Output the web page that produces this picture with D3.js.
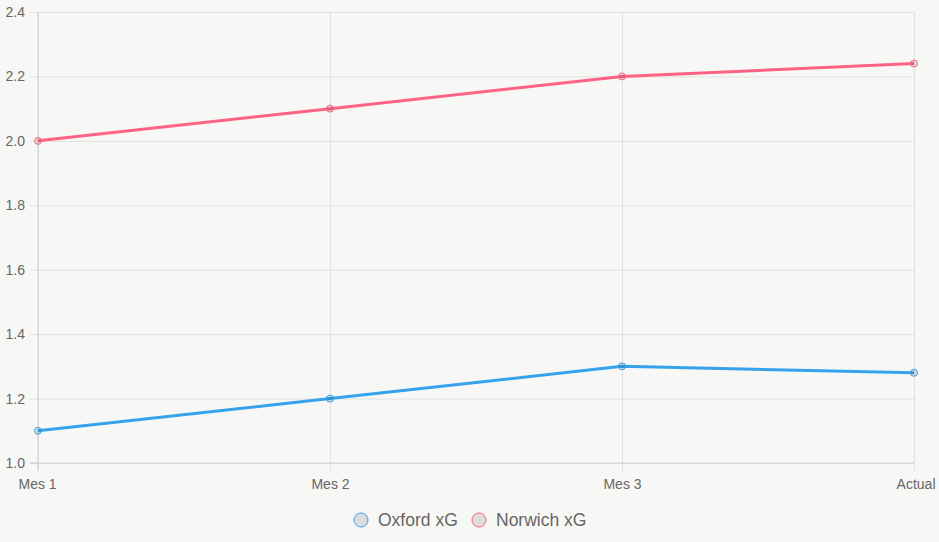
<!DOCTYPE html>
<html>
<head>
<meta charset="utf-8">
<script src="https://cdn.jsdelivr.net/npm/d3@7"></script>
<style>
  html, body { margin: 0; padding: 0; background: #f7f7f5; }
  svg { display: block; font-family: "Liberation Sans", Arial, sans-serif; }
</style>
</head>
<body>
<div id="chart"></div>
<script>
// chart values
const months = ["Mes 1", "Mes 2", "Mes 3", "Actual"];
const oxford = [1.1, 1.2, 1.3, 1.28];
const norwich = [2.0, 2.1, 2.2, 2.24];
const yTicks = [1.0, 1.2, 1.4, 1.6, 1.8, 2.0, 2.2, 2.4];
const seriesNames = ["Oxford xG", "Norwich xG"];
const seriesColors = ["#36a2eb", "#ff6384"];

const width = 939, height = 542;
const plotLeft = 38, plotRight = 914, plotTop = 12, plotBottom = 463;

const svg = d3.select("#chart").append("svg")
  .attr("width", width)
  .attr("height", height);

const x = d3.scalePoint().domain(months).range([plotLeft, plotRight]);
const y = d3.scaleLinear().domain([1.0, 2.4]).range([plotBottom, plotTop]);

// y grid + labels
const gy = svg.append("g")
  .attr("transform", `translate(${plotRight},0)`)
  .call(d3.axisLeft(y).tickValues(yTicks).tickSize(plotRight - plotLeft + 8).tickPadding(5).tickFormat(d3.format(".1f")));
gy.select(".domain").remove();
gy.selectAll(".tick line").attr("stroke", "#e0e0e0");
gy.selectAll(".tick text")
  .attr("fill", "#666")
  .attr("font-size", 14);

// x grid + labels
const gx = svg.append("g")
  .attr("transform", `translate(0,${plotTop})`)
  .call(d3.axisBottom(x).tickSize(plotBottom - plotTop + 8).tickPadding(8));
gx.select(".domain").remove();
gx.selectAll(".tick line").attr("stroke", "#e0e0e0");
gx.selectAll(".tick text")
  .attr("fill", "#666")
  .attr("font-size", 14);
gx.selectAll(".tick text")
  .filter((d, i) => i === 0).attr("text-anchor", "start").attr("dx", -20);
gx.selectAll(".tick text")
  .filter((d, i) => i === months.length - 1).attr("text-anchor", "end").attr("dx", 21);

// axis lines
svg.append("line")
  .attr("x1", plotLeft).attr("x2", plotLeft).attr("y1", plotTop).attr("y2", plotBottom + 8)
  .attr("stroke", "#cfcfcf");
svg.append("line")
  .attr("x1", plotLeft - 8).attr("x2", plotRight).attr("y1", plotBottom).attr("y2", plotBottom)
  .attr("stroke", "#cfcfcf");

const line = d3.line()
  .x((d, i) => x(months[i]))
  .y(d => y(d));

[oxford, norwich].forEach((vals, s) => {
  svg.append("path")
    .datum(vals)
    .attr("d", line)
    .attr("fill", "none")
    .attr("stroke", seriesColors[s])
    .attr("stroke-width", 3);

  svg.selectAll(null)
    .data(vals)
    .enter()
    .append("circle")
    .attr("cx", (d, i) => x(months[i]))
    .attr("cy", d => y(d))
    .attr("r", 3.5)
    .attr("fill", "rgba(0,0,0,0.1)")
    .attr("stroke", seriesColors[s])
    .attr("stroke-width", 1);
});

// legend
const legendX = [361, 479];
seriesNames.forEach((name, i) => {
  svg.append("circle")
    .attr("cx", legendX[i])
    .attr("cy", 520)
    .attr("r", 7)
    .attr("fill", "rgba(0,0,0,0.1)")
    .attr("stroke", seriesColors[i])
    .attr("stroke-width", 1);
  svg.append("text")
    .attr("x", legendX[i] + 17)
    .attr("y", 526)
    .attr("fill", "#666")
    .attr("font-size", 17.5)
    .text(name);
});
</script>
</body>
</html>
